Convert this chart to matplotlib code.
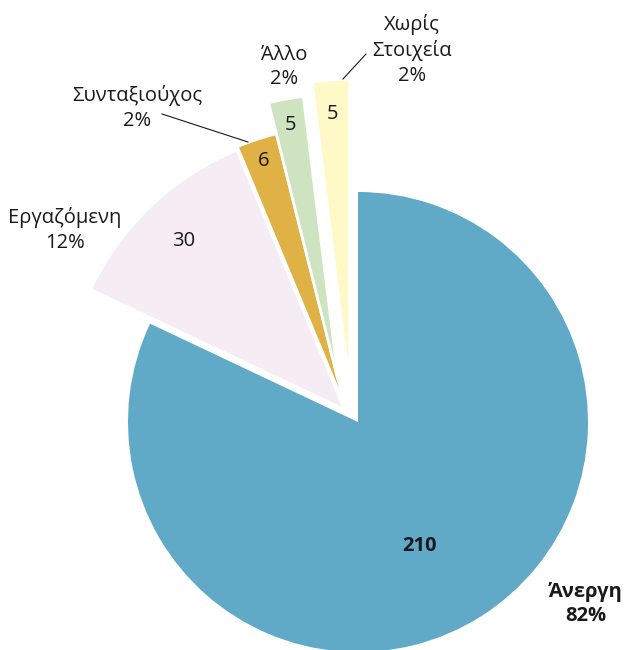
import matplotlib
matplotlib.use("Agg")
import matplotlib.pyplot as plt
import numpy as np

plt.rcParams['font.family'] = ['Open Sans', 'Noto Sans', 'DejaVu Sans']

# ---- data ----
categories = ["Άνεργη", "Εργαζόμενη", "Συνταξιούχος", "Άλλο", "Χωρίς\nΣτοιχεία"]
values = [210, 30, 6, 5, 5]
percent_labels = ["82%", "12%", "2%", "2%", "2%"]

# ---- style ----
colors = ["#60AAC8", "#F6ECF4", "#E0B246", "#CEE4C0", "#FFF9C7"]
# pull-out offsets of each slice (dx, dy) in radius units
pull = [(0.0, 0.0), (-0.060, 0.055), (-0.058, 0.070), (-0.085, 0.175), (-0.036, 0.150)]
radii = [1.0, 1.22, 1.22, 1.25, 1.34]
edge_w = [0.0, 2.0, 2.0, 2.0, 2.0]
inner_dist = [0.60, 0.83, 0.92, 0.91, 0.89]
inner_rot = [-6, 0, 0, 0, 0]

W, H = 625, 650
SCALE = 230.0
CX, CY = 358.0, 422.0


def px(x, y):
    return ((x - CX) / SCALE, (CY - y) / SCALE)


fig = plt.figure(figsize=(W / 100, H / 100), dpi=100)
ax = fig.add_axes([0, 0, 1, 1])

wedges, _ = ax.pie(values, colors=colors, startangle=90, counterclock=False,
                   radius=1.0, wedgeprops=dict(linewidth=0))

for i, (w, r, d, v, (dx, dy), rot, lw) in enumerate(
        zip(wedges, radii, inner_dist, values, pull, inner_rot, edge_w)):
    cx, cy = w.center
    w.set_center((cx + dx, cy + dy))
    w.set_radius(r)
    w.set_edgecolor("white")
    w.set_linewidth(lw)
    w.set_joinstyle("round")
    th = np.deg2rad((w.theta1 + w.theta2) / 2 + rot)
    tx = cx + dx + d * r * np.cos(th)
    ty = cy + dy + d * r * np.sin(th)
    ax.text(tx, ty, str(v), ha="center", va="center", fontsize=14.5,
            fontweight="bold" if i == 0 else "normal", color="#1a1a1a",
            zorder=5)

# outer labels (layout positions in pixels)
label_pos = [(586, 604), (65, 230), (137, 108), (284, 67), (412, 50)]
for i, (cat, pct, pos) in enumerate(zip(categories, percent_labels, label_pos)):
    x, y = px(*pos)
    ax.text(x, y, f"{cat}\n{pct}", ha="center", va="center", fontsize=14.5,
            linespacing=1.3, fontweight="bold" if i == 0 else "normal",
            color="#1a1a1a")

# leader lines
leaders = [((162, 114), (248, 142)), ((343, 79), (366, 54))]
for (x0, y0), (x1, y1) in leaders:
    a = px(x0, y0)
    b = px(x1, y1)
    ax.plot([a[0], b[0]], [a[1], b[1]], color="#1a1a1a", linewidth=0.8)

ax.set_aspect("auto")
ax.set_xlim(px(0, 0)[0], px(W, 0)[0])
ax.set_ylim(px(0, H)[1], px(0, 0)[1])
ax.axis("off")

fig.savefig("out.png", dpi=100)
